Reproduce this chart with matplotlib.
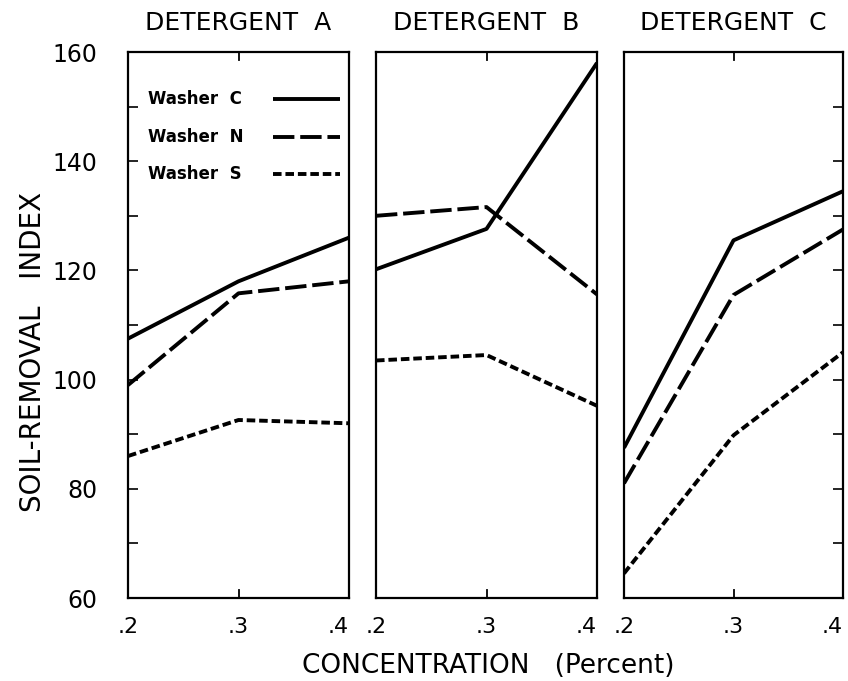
import numpy as np
import matplotlib
matplotlib.use('Agg')
import matplotlib.pyplot as plt
from matplotlib.ticker import MultipleLocator

# concentration (percent) and soil-removal index
conc = [0.2, 0.3, 0.4]
conc_labels = ['.2', '.3', '.4']
detergents = ['DETERGENT  A', 'DETERGENT  B', 'DETERGENT  C']
washers = ['Washer  C', 'Washer  N', 'Washer  S']

det_a = {'Washer  C': [107.5, 118, 126],
         'Washer  N': [99, 115.8, 118],
         'Washer  S': [86, 92.6, 92]}
det_b = {'Washer  C': [120.2, 127.6, 158],
         'Washer  N': [130, 131.6, 115.6],
         'Washer  S': [103.5, 104.5, 95.2]}
det_c = {'Washer  C': [87.5, 125.5, 134.5],
         'Washer  N': [81, 115.5, 127.5],
         'Washer  S': [64.5, 89.8, 105]}
panels = [det_a, det_b, det_c]

styles = {'Washer  C': (0, ()),
          'Washer  N': (0, (5.5, 1.5)),
          'Washer  S': (0, (2.2, 1.0))}

W, H = 848, 681
fig = plt.figure(figsize=(W / 100, H / 100), dpi=100)
plt.rcParams['font.family'] = 'DejaVu Sans'

lefts = [128, 376, 624]
widths = [221, 221, 219]
top, bot = 52, 598
LW = 2.8

axes = []
for i in range(3):
    ax = fig.add_axes([lefts[i] / W, 1 - bot / H, widths[i] / W, (bot - top) / H])
    for w in washers:
        ax.plot(conc, panels[i][w], color='black', lw=LW,
                linestyle=styles[w], solid_capstyle='butt', dash_capstyle='butt')
    ax.set_xlim(0.2, 0.4)
    ax.set_ylim(60, 160)
    for s in ax.spines.values():
        s.set_linewidth(1.6)
    ax.set_xticks(conc)
    ax.set_xticklabels(conc_labels, fontsize=16)
    ax.get_xticklabels()[2].set_ha('right')
    ax.tick_params(axis='x', direction='in', length=0, pad=14, top=False)
    ax.set_title(detergents[i], fontsize=18, pad=16, fontweight='normal')
    # small tick marks at .3 on top and bottom
    ax.plot([0.3, 0.3], [60, 61.5], color='black', lw=1.3)
    ax.plot([0.3, 0.3], [160, 158.5], color='black', lw=1.3)
    axes.append(ax)

axA, axB, axC = axes
axA.yaxis.set_major_locator(MultipleLocator(20))
axA.yaxis.set_minor_locator(MultipleLocator(10))
axA.tick_params(axis='y', which='both', direction='in', length=7, width=1.2, labelsize=17, pad=22)
axB.set_yticks([])
axC.yaxis.tick_right()
axC.yaxis.set_minor_locator(MultipleLocator(10))
axC.yaxis.set_major_locator(MultipleLocator(20))
axC.tick_params(axis='y', which='both', direction='in', length=7, width=1.2, labelright=False)

fig.text(33 / W, 1 - 352 / H, 'SOIL-REMOVAL   INDEX', fontsize=20,
         rotation=90, ha='center', va='center')
fig.text(488 / W, 1 - 666 / H, 'CONCENTRATION   (Percent)', fontsize=19,
         ha='center', va='center')

# legend drawn inside panel A
ly = [151.4, 144.4, 137.7]
for w, y in zip(washers, ly):
    axA.text(0.218, y, w, fontsize=12, fontweight='bold', va='center')
    axA.plot([0.331, 0.392], [y, y], color='black', lw=LW, linestyle=styles[w],
             solid_capstyle='butt', dash_capstyle='butt')

fig.savefig('out.png', dpi=100)
